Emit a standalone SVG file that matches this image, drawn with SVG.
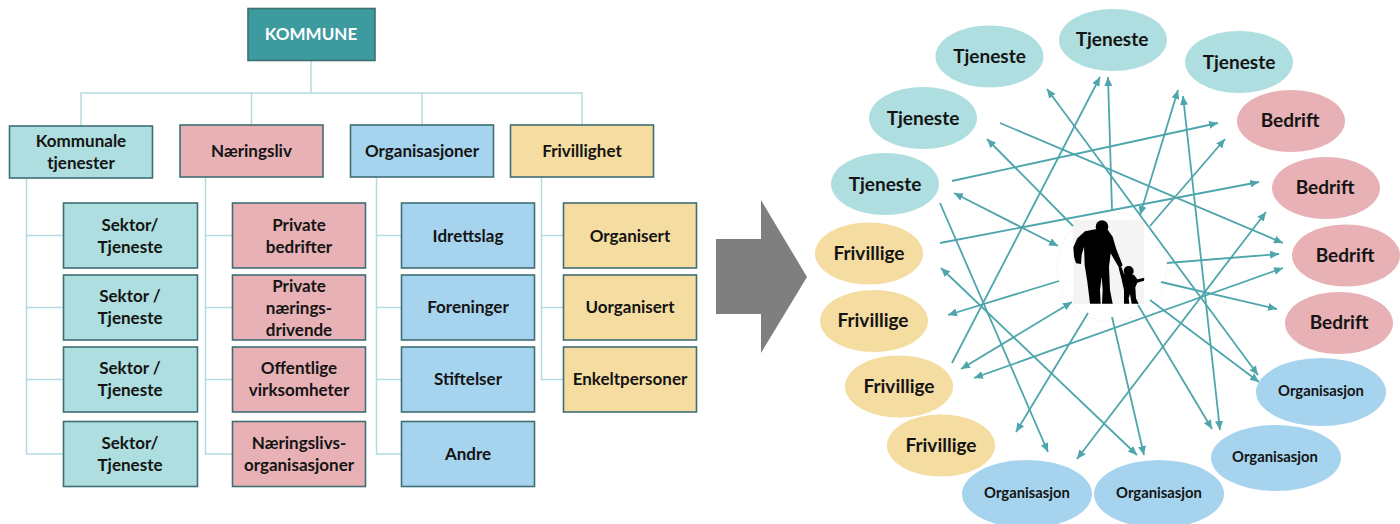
<svg xmlns="http://www.w3.org/2000/svg" width="1400" height="524" viewBox="0 0 1400 524">
<style>
text{font-family:"Lato","Liberation Sans",sans-serif;font-weight:700;fill:#141414;text-anchor:middle;font-size:17px}
.b{stroke:#3f6f73;stroke-width:1.6}
.t{fill:#aededf}.r{fill:#e8b1b5}.o{fill:#a6d3ee}.y{fill:#f5dca0}
.el{font-size:19px}.or{font-size:14.800px}
.tree{fill:none;stroke:#b3dcdf;stroke-width:1.5}
.a{fill:none;stroke:#4ea6ac;stroke-width:1.800;marker-end:url(#h)}
.d{marker-start:url(#hs)}
</style>
<defs>
<marker id="h" markerUnits="userSpaceOnUse" markerWidth="10" markerHeight="8" refX="9" refY="4" orient="auto"><path d="M0 0L9 4L0 8z" fill="#4ea6ac"/></marker>
<marker id="hs" markerUnits="userSpaceOnUse" markerWidth="10" markerHeight="8" refX="1" refY="4" orient="auto"><path d="M10 0L1 4L10 8z" fill="#4ea6ac"/></marker>
</defs>
<rect width="1400" height="524" fill="#fff"/>
<g id="tree-connectors">
<path class="tree" d="M311 60V93M81 126V93H582V125M251.500 93V125M422 93V125"/>
<path class="tree" d="M26.500 178V454H63M26.500 235.500H63M26.500 307.500H63M26.500 379.500H63"/>
<path class="tree" d="M205.500 177V454H232M205.500 235.500H232M205.500 307.500H232M205.500 379.500H232"/>
<path class="tree" d="M376.500 177V454H401M376.500 235.500H401M376.500 307.500H401M376.500 379.500H401"/>
<path class="tree" d="M541.500 177V379.500H563M541.500 235.500H563M541.500 307.500H563"/>
</g>
<g id="kommune"><rect class="b" x="248" y="8.500" width="127" height="52" fill="#3d9a9f"/><text x="311" y="40" style="fill:#fff">KOMMUNE</text></g>
<g id="kommunale"><rect class="b t" x="9.500" y="126" width="143" height="52"/><text x="81" y="147">Kommunale</text><text x="81" y="169">tjenester</text></g>
<g id="naeringsliv"><rect class="b r" x="180" y="125" width="143" height="52"/><text x="251.500" y="157">Næringsliv</text></g>
<g id="organisasjoner"><rect class="b o" x="350.500" y="125" width="143" height="52"/><text x="422" y="157">Organisasjoner</text></g>
<g id="frivillighet"><rect class="b y" x="510.500" y="125" width="143" height="52"/><text x="582" y="157">Frivillighet</text></g>

<g id="sektor1"><rect class="b t" x="63.500" y="203" width="134" height="65"/><text x="130" y="231">Sektor/</text><text x="130" y="253">Tjeneste</text></g>
<g id="sektor2"><rect class="b t" x="63.500" y="275" width="134" height="65"/><text x="130" y="302">Sektor /</text><text x="130" y="324">Tjeneste</text></g>
<g id="sektor3"><rect class="b t" x="63.500" y="347" width="134" height="65"/><text x="130" y="374">Sektor /</text><text x="130" y="396">Tjeneste</text></g>
<g id="sektor4"><rect class="b t" x="63.500" y="421.500" width="134" height="65"/><text x="130" y="449">Sektor/</text><text x="130" y="471">Tjeneste</text></g>

<g id="private-bedrifter"><rect class="b r" x="232.500" y="203" width="133" height="65"/><text x="299" y="231">Private</text><text x="299" y="253">bedrifter</text></g>
<g id="private-naeringsdrivende"><rect class="b r" x="232.500" y="275" width="133" height="65"/><text x="299" y="292">Private</text><text x="299" y="314">nærings-</text><text x="299" y="336">drivende</text></g>
<g id="offentlige"><rect class="b r" x="232.500" y="347" width="133" height="65"/><text x="299" y="374">Offentlige</text><text x="299" y="396">virksomheter</text></g>
<g id="naeringslivsorg"><rect class="b r" x="232.500" y="421.500" width="133" height="65"/><text x="299" y="449">Næringslivs-</text><text x="299" y="471">organisasjoner</text></g>

<g id="idrettslag"><rect class="b o" x="401.500" y="203" width="133" height="65"/><text x="468" y="242">Idrettslag</text></g>
<g id="foreninger"><rect class="b o" x="401.500" y="275" width="133" height="65"/><text x="468" y="313">Foreninger</text></g>
<g id="stiftelser"><rect class="b o" x="401.500" y="347" width="133" height="65"/><text x="468" y="385">Stiftelser</text></g>
<g id="andre"><rect class="b o" x="401.500" y="421.500" width="133" height="65"/><text x="468" y="460">Andre</text></g>

<g id="organisert"><rect class="b y" x="563.500" y="203" width="133" height="65"/><text x="630" y="242">Organisert</text></g>
<g id="uorganisert"><rect class="b y" x="563.500" y="275" width="133" height="65"/><text x="630" y="313">Uorganisert</text></g>
<g id="enkeltpersoner"><rect class="b y" x="563.500" y="347" width="133" height="65"/><text x="630" y="385">Enkeltpersoner</text></g>

<polygon id="big-arrow" points="716,239 761,239 761,200 807,277 761,353 761,314 716,314" fill="#7f7f7f"/>

<g id="centre">
<circle cx="1112" cy="267" r="55" fill="#fff" stroke="#f6f6f6" stroke-width="1"/>
<rect x="1073" y="220" width="71" height="84" fill="#f4f4f4"/>
<g transform="translate(950 90) scale(.33333)" fill="#000">
<circle cx="456" cy="410" r="19"/>
<path d="M436 418L405 424L382 445L370 472L372 500L378 520L393 522L395 495L402 470L404 525L412 575L420 641L452 641L450 600L455 560L458 600L456 641L488 641L480 600L477 530L482 490L508 535L518 526L498 475L488 440L472 418Z"/>
<circle cx="536" cy="543" r="15"/>
<path d="M506 534L514 530L522 552L552 554L562 568L583 563L582 572L562 578L556 592L558 625L566 641L545 641L540 612L536 625L538 641L522 641L522 600L514 565Z"/>
</g>
</g>

<g id="arrows">
<path class="a" d="M952 363L1100 77"/>
<path class="a" d="M1112 210L1108 77"/>
<path class="a d" d="M1047 89L1258 375"/>
<path class="a d" d="M1140 215L1178 90"/>
<path class="a d" d="M1220 430L1183 96"/>
<path class="a" d="M952 181L1218 123"/>
<path class="a" d="M1000 123L1283 243"/>
<path class="a" d="M1073 226L987 139"/>
<path class="a d" d="M954 193L1058 246"/>
<path class="a" d="M940 243L1259 182"/>
<path class="a" d="M1150 226L1225 139"/>
<path class="a" d="M940 203L1048 452"/>
<path class="a d" d="M941 268L1137 455"/>
<path class="a" d="M1059 281L948 315"/>
<path class="a d" d="M1072 302L961 369"/>
<path class="a d" d="M974 378L1283 268"/>
<path class="a" d="M1088 313L1016 432"/>
<path class="a" d="M1112 317L1144 455"/>
<path class="a" d="M1138 305L1212 429"/>
<path class="a d" d="M1077 459L1266 212"/>
<path class="a" d="M1167 263L1279 254"/>
<path class="a" d="M1161 282L1277 309"/>
<path class="a" d="M1150 300L1259 382"/>
</g>

<g id="tj1"><ellipse class="t" cx="989.500" cy="56.500" rx="54" ry="31"/><text class="el" x="989.500" y="63">Tjeneste</text></g>
<g id="tj2"><ellipse class="t" cx="1113" cy="40" rx="54" ry="31"/><text class="el" x="1112" y="46">Tjeneste</text></g>
<g id="tj3"><ellipse class="t" cx="1239" cy="62" rx="54" ry="31"/><text class="el" x="1239" y="69">Tjeneste</text></g>
<g id="tj4"><ellipse class="t" cx="923" cy="118" rx="54" ry="31"/><text class="el" x="923" y="125">Tjeneste</text></g>
<g id="tj5"><ellipse class="t" cx="885" cy="184" rx="54" ry="31"/><text class="el" x="885" y="191">Tjeneste</text></g>
<g id="be1"><ellipse class="r" cx="1291" cy="121" rx="54" ry="31"/><text class="el" x="1290" y="127">Bedrift</text></g>
<g id="be2"><ellipse class="r" cx="1326" cy="188" rx="54" ry="31"/><text class="el" x="1325" y="194">Bedrift</text></g>
<g id="be3"><ellipse class="r" cx="1346" cy="255.500" rx="54" ry="31"/><text class="el" x="1345" y="262">Bedrift</text></g>
<g id="be4"><ellipse class="r" cx="1339" cy="323" rx="54" ry="31"/><text class="el" x="1339" y="329">Bedrift</text></g>
<g id="fr1"><ellipse class="y" cx="869" cy="253.500" rx="54" ry="31"/><text class="el" x="869" y="260">Frivillige</text></g>
<g id="fr2"><ellipse class="y" cx="874" cy="321" rx="54" ry="31"/><text class="el" x="873" y="327">Frivillige</text></g>
<g id="fr3"><ellipse class="y" cx="899" cy="386.500" rx="54" ry="31"/><text class="el" x="899" y="393">Frivillige</text></g>
<g id="fr4"><ellipse class="y" cx="941" cy="445.500" rx="54" ry="31"/><text class="el" x="941" y="452">Frivillige</text></g>
<g id="or1"><ellipse class="o" cx="1027" cy="494" rx="65" ry="34"/><text class="or" x="1027" y="498">Organisasjon</text></g>
<g id="or2"><ellipse class="o" cx="1159" cy="494" rx="65" ry="34"/><text class="or" x="1159" y="498">Organisasjon</text></g>
<g id="or3"><ellipse class="o" cx="1276" cy="458" rx="65" ry="33"/><text class="or" x="1275" y="462">Organisasjon</text></g>
<g id="or4"><ellipse class="o" cx="1321" cy="392" rx="65" ry="34"/><text class="or" x="1321" y="396">Organisasjon</text></g>
</svg>
